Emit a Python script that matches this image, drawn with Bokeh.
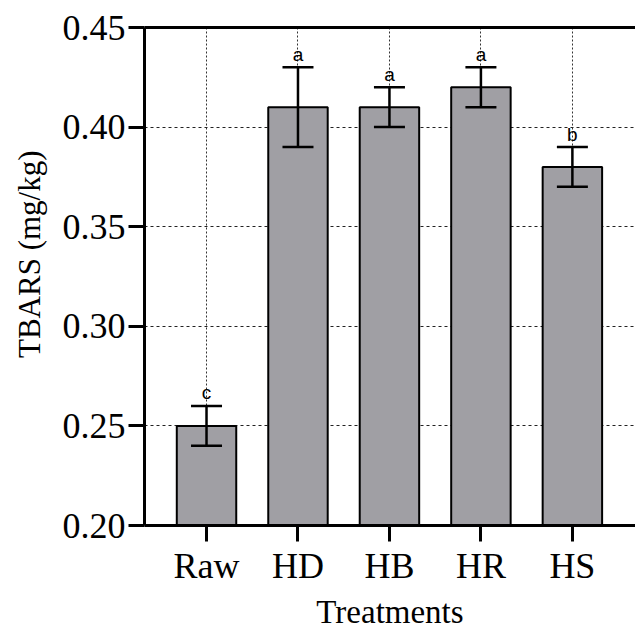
from bokeh.plotting import figure
from bokeh.models import (ColumnDataSource, Range1d, FixedTicker, LinearAxis,
                          Whisker, TeeHead, PrintfTickFormatter, Title)
from bokeh.core.properties import value
from bokeh.embed import file_html
from bokeh.resources import INLINE

# ---- data ----
categories = ["Raw", "HD", "HB", "HR", "HS"]
means = [0.25, 0.41, 0.41, 0.42, 0.38]
errors = [0.01, 0.02, 0.01, 0.01, 0.01]
letters = ["c", "a", "a", "a", "b"]
y_ticks = [0.20, 0.25, 0.30, 0.35, 0.40, 0.45]

xs = list(range(1, len(categories) + 1))
src = ColumnDataSource(dict(
    x=xs, top=means,
    upper=[m + e for m, e in zip(means, errors)],
    lower=[m - e for m, e in zip(means, errors)],
    letter=letters,
))

SERIF = "Liberation Serif"

p = figure(width=635, height=632, output_backend="svg", toolbar_location=None,
           x_range=Range1d(0.322, 5.69), y_range=Range1d(0.20, 0.45),
           min_border_left=143, min_border_right=0, min_border_top=27,
           min_border_bottom=104)
p.outline_line_color = None
p.background_fill_color = "white"
p.border_fill_color = "white"

# grid
p.xgrid.grid_line_color = "#333333"
p.xgrid.grid_line_dash = "2 2"
p.xgrid.grid_line_width = 1
p.ygrid.grid_line_color = "#222222"
p.ygrid.grid_line_dash = "3 3"
p.ygrid.grid_line_width = 1.2

# bars
p.vbar(x="x", top="top", bottom=0.0, width=0.65, source=src,
       fill_color="#a09fa4", line_color="black", line_width=2)

# error bars
w = Whisker(base="x", upper="upper", lower="lower", source=src,
            line_color="black", line_width=2.5, level="annotation",
            upper_head=TeeHead(size=31, line_width=2.5, line_color="black"),
            lower_head=TeeHead(size=31, line_width=2.5, line_color="black"))
p.add_layout(w)

# significance letters
p.text(x="x", y="upper", text="letter", source=src, text_align="center",
       text_baseline="alphabetic", y_offset=-13,
       text_font=value("Liberation Sans"), text_font_size="19px",
       text_color="black")

# axes
p.xaxis.ticker = FixedTicker(ticks=xs)
p.xaxis.major_label_overrides = {x: c for x, c in zip(xs, categories)}
p.yaxis.ticker = FixedTicker(ticks=y_ticks)
p.yaxis.formatter = PrintfTickFormatter(format="%.2f")

for ax in (p.xaxis[0], p.yaxis[0]):
    ax.axis_line_width = 3
    ax.axis_line_color = "black"
    ax.major_tick_line_width = 3
    ax.major_tick_line_color = "black"
    ax.major_tick_out = 16
    ax.major_tick_in = 0
    ax.minor_tick_line_color = None
    ax.major_label_text_font = SERIF
    ax.major_label_text_font_size = "36px"
    ax.major_label_text_color = "black"
    ax.axis_label_text_font = SERIF
    ax.axis_label_text_font_size = "33px"
    ax.axis_label_text_font_style = "normal"
    ax.axis_label_text_color = "black"

p.xaxis.axis_label = "Treatments"
p.xaxis.major_label_standoff = 4
p.xaxis.axis_label_standoff = 5
p.yaxis.major_label_standoff = 3

# y-axis title as a left-side Title, anchored near the top of the frame
ytitle = Title(text="TBARS (mg/kg)", align="right", vertical_align="top",
               offset=123, text_font=SERIF, text_font_size="31px",
               text_font_style="normal", text_color="black", standoff=22)
p.add_layout(ytitle, "left")

top_axis = LinearAxis(ticker=FixedTicker(ticks=[]), axis_line_width=3,
                      axis_line_color="black", major_tick_line_color=None,
                      minor_tick_line_color=None,
                      major_label_text_font_size="0px")
p.add_layout(top_axis, "above")

open("out.html", "w").write(file_html(p, INLINE))
